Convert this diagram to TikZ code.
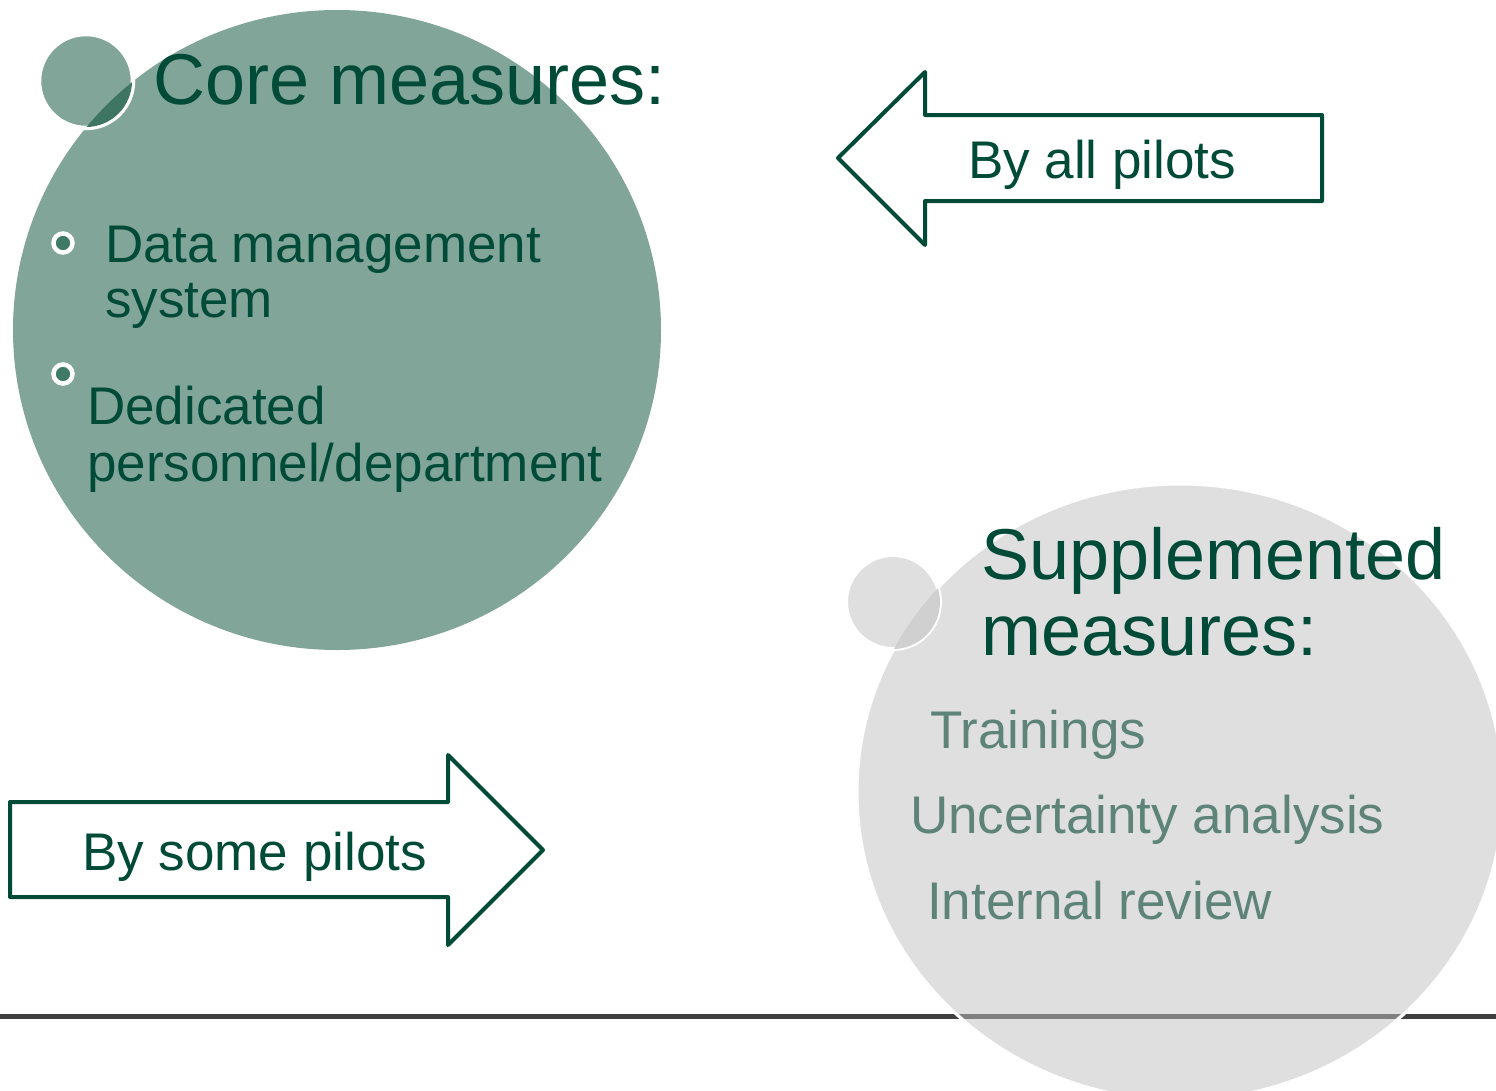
\documentclass[tikz,border=0pt]{standalone}
\usepackage{fontspec}
\setmainfont{Liberation Sans}
\definecolor{cgreen}{HTML}{82A59A}
\definecolor{cgreendark}{HTML}{3F7563}
\definecolor{ctext}{HTML}{004B38}
\definecolor{clist}{HTML}{5E8479}
\definecolor{cgrey}{HTML}{DFDFDF}
\definecolor{cgreyov}{HTML}{D0D0D0}
\definecolor{cline}{HTML}{404040}
\definecolor{clinein}{HTML}{808080}
\definecolor{cbullet}{HTML}{3F7A66}
\tikzset{
  big/.style={font=\fontsize{72}{78}\selectfont, text=ctext, inner sep=0pt, anchor=base west},
  body/.style={font=\fontsize{53}{58}\selectfont, text=ctext, inner sep=0pt, anchor=base west},
  listtxt/.style={font=\fontsize{53}{58}\selectfont, text=clist, inner sep=0pt, anchor=base west},
  arrowshape/.style={draw=ctext, line width=4pt, fill=white, line join=round},
  ring/.style={circle, draw=white, line width=4.5pt, fill=cbullet, minimum size=19pt, inner sep=0pt}
}
\begin{document}
\begin{tikzpicture}[x=1pt,y=-1pt]
\useasboundingbox (0,0) rectangle (1496,1090);
\clip (0,0) rectangle (1496,1090);
\fill[white] (0,0) rectangle (1496,1090);
% bottom rule
\draw[cline, line width=5pt] (0,1016) -- (1496,1016);
% grey circle
\fill[cgrey, draw=white, line width=3pt] (1180,792) ellipse [x radius=323pt, y radius=308pt];
\begin{scope}
  \clip (1180,792) ellipse [x radius=321pt, y radius=306pt];
  \draw[clinein, line width=5pt] (0,1016) -- (1496,1016);
\end{scope}
% small grey circle
\fill[cgrey, draw=white, line width=4pt] (893,602) circle [radius=47pt];
\begin{scope}
  \clip (893,602) circle [radius=47pt];
  \fill[cgreyov] (1180,792) ellipse [x radius=323pt, y radius=308pt];
\end{scope}
% green circle
\fill[cgreen] (337,330) ellipse [x radius=324pt, y radius=320pt];
\fill[cgreen, draw=white, line width=4.5pt] (86,81) circle [radius=47pt];
\begin{scope}
  \clip (86,81) circle [radius=46pt];
  \fill[cgreendark] (337,330) ellipse [x radius=324pt, y radius=320pt];
\end{scope}
% texts in green circle
\node[big] (core) at (153,104) {Core measures:};
\node[ring] (b1) at (63,243) {};
\node[ring] (b2) at (63,374) {};
\node[body] (dm1) at (105,262) {Data management};
\node[body] (dm2) at (105,317) {system};
\node[body] (dp1) at (87,424) {Dedicated};
\node[body] (dp2) at (87,481) {personnel/department};
% texts in grey circle
\node[big] (sup1) at (981,579) {Supplemented};
\node[big] (sup2) at (981,655) {measures:};
\node[listtxt] (l1) at (930,748) {Trainings};
\node[listtxt] (l2) at (910,833) {Uncertainty analysis};
\node[listtxt] (l3) at (927,919) {Internal review};
% left arrow
\draw[arrowshape] (838,158) -- (925,72) -- (925,115) -- (1322,115) -- (1322,201) -- (925,201) -- (925,245) -- cycle;
\node[body] (all) at (968,178) {By all pilots};
% right arrow
\draw[arrowshape] (10,802) -- (448,802) -- (448,755) -- (543,850) -- (448,945) -- (448,897) -- (10,897) -- cycle;
\node[body] (some) at (82,870) {By some pilots};
\end{tikzpicture}
\end{document}
